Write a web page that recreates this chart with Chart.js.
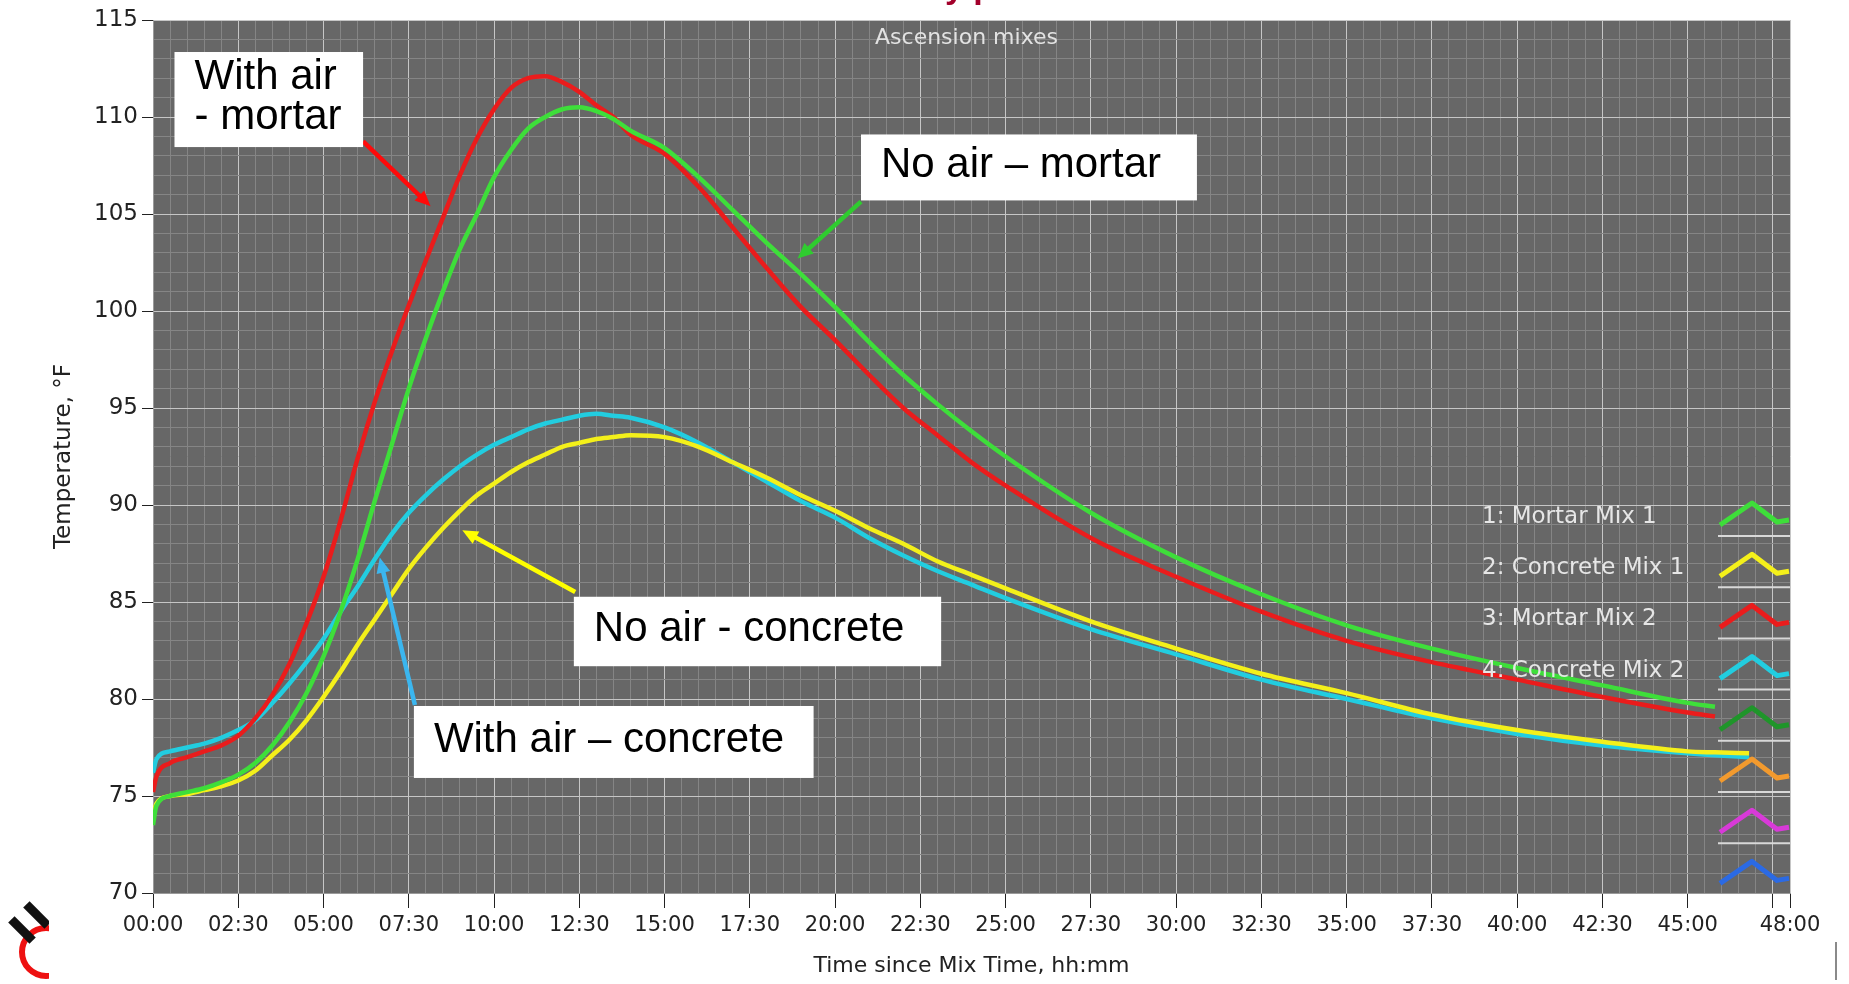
<!DOCTYPE html>
<html>
<head>
<meta charset="utf-8">
<title>Ascension mixes</title>
<script src="https://cdn.jsdelivr.net/npm/chart.js@4.4.1/dist/chart.umd.min.js"></script>
<style>
  body { margin: 0; background: #fff; overflow: hidden; }
</style>
</head>
<body>
<canvas id="tempChart" width="1849" height="984"></canvas>
<script>
// hours since mix time
const times = [0, 0.1, 0.5, 1, 1.5, 2, 2.5, 3, 3.5, 4,
  4.5, 5, 5.5, 6, 6.5, 7, 7.5, 8, 8.5, 9,
  9.5, 10, 10.5, 11, 11.5, 12, 12.5, 13, 13.5, 14,
  15, 16, 17, 18, 19, 20, 21, 22, 23, 24,
  25, 27.5, 30, 32.5, 35, 37.5, 40, 42.5, 45, 45.8,
  46.8];

// temperatures, °F
const mortarMix1 = [73.5, 74.5, 75.0, 75.2, 75.4, 75.7, 76.1, 76.7, 77.6, 78.8,
  80.3, 82.2, 84.5, 87.2, 90.2, 93.1, 96.0, 98.6, 101.0, 103.2,
  105.0, 106.9, 108.3, 109.4, 110.0, 110.4, 110.5, 110.3, 109.9, 109.3,
  108.4, 106.9, 105.2, 103.5, 101.9, 100.2, 98.4, 96.7, 95.2, 93.8,
  92.5, 89.6, 87.3, 85.4, 83.8, 82.6, 81.6, 80.7, 79.8, 79.6,
  null];
const concreteMix1 = [74.0, 74.6, 75.0, 75.1, 75.3, 75.5, 75.8, 76.3, 77.1, 77.9,
  78.9, 80.1, 81.4, 82.8, 84.1, 85.4, 86.7, 87.8, 88.8, 89.7,
  90.5, 91.1, 91.7, 92.2, 92.6, 93.0, 93.2, 93.4, 93.5, 93.6,
  93.5, 93.0, 92.2, 91.4, 90.5, 89.7, 88.8, 88.0, 87.1, 86.4,
  85.7, 84.0, 82.6, 81.3, 80.3, 79.2, 78.4, 77.8, 77.3, 77.25,
  77.2];
const mortarMix2 = [75.2, 76.0, 76.7, 77.0, 77.3, 77.6, 78.1, 79.0, 80.2, 81.8,
  83.9, 86.3, 89.2, 92.4, 95.3, 97.9, 100.3, 102.6, 104.8, 107.0,
  108.9, 110.4, 111.5, 112.0, 112.1, 111.8, 111.3, 110.6, 110.0, 109.1,
  108.1, 106.4, 104.3, 102.2, 100.2, 98.5, 96.7, 95.0, 93.6, 92.2,
  91.0, 88.3, 86.3, 84.5, 83.0, 81.9, 81.0, 80.1, 79.3, 79.1,
  null];
const concreteMix2 = [76.2, 76.9, 77.3, 77.5, 77.7, 78.0, 78.4, 78.9, 79.8, 80.8,
  81.9, 83.1, 84.5, 85.8, 87.2, 88.5, 89.6, 90.5, 91.3, 92.0,
  92.6, 93.1, 93.5, 93.9, 94.2, 94.4, 94.6, 94.7, 94.6, 94.5,
  94.0, 93.2, 92.2, 91.2, 90.2, 89.35, 88.3, 87.4, 86.6, 85.9,
  85.2, 83.6, 82.3, 81.0, 80.0, 79.0, 78.2, 77.6, 77.2, 77.1,
  77.0];

const seriesLabels = ["1: Mortar Mix 1", "2: Concrete Mix 1", "3: Mortar Mix 2", "4: Concrete Mix 2"];
const seriesColors = ["#3ede3a", "#f4f01a", "#ea1c1c", "#22cde0"];
// the four unused plot slots in the legend
const spareColors = ["#1f952a", "#f29a2e", "#d83ad8", "#2b6ae4"];

const xTickMax = 48;

function toPoints(values) {
  const pts = [];
  times.forEach((t, i) => {
    if (values[i] !== null) pts.push({ x: t, y: values[i] });
  });
  return pts;
}

function fmtTime(v) {
  const h = Math.floor(v);
  const m = Math.round((v - h) * 60);
  return String(h).padStart(2, "0") + ":" + String(m).padStart(2, "0");
}

const isMajorX = v => Math.abs(v % 2.5) < 1e-9 || v === xTickMax;
const isMajorY = v => v % 5 === 0;

// callout boxes, placed in data units (hours, °F)
const callouts = [
  { lines: ["With air", "- mortar"], box: [0.63, 113.35, 6.16, 108.45], from: [6.16, 108.74], to: [8.14, 105.4], color: "#ff0a0a" },
  { lines: ["No air \u2013 mortar"], box: [20.76, 109.1, 30.61, 105.7], from: [20.76, 105.64], to: [18.9, 102.7], color: "#2fcc2f" },
  { lines: ["No air - concrete"], box: [12.34, 85.27, 23.11, 81.69], from: [12.38, 85.52], to: [9.07, 88.7], color: "#ffff00" },
  { lines: ["With air \u2013 concrete"], box: [7.65, 79.64, 19.37, 75.93], from: [7.68, 79.69], to: [6.65, 87.3], color: "#3bb6ef" }
];

const plotBackground = {
  id: "plotBackground",
  beforeDraw(chart) {
    const { ctx, chartArea: a } = chart;
    ctx.save();
    ctx.fillStyle = "#ffffff";
    ctx.fillRect(0, 0, chart.width, chart.height);
    ctx.fillStyle = "#676767";
    ctx.fillRect(a.left, a.top, a.width, a.height);
    ctx.restore();
  }
};

function drawArrow(ctx, x1, y1, x2, y2, color) {
  const ang = Math.atan2(y2 - y1, x2 - x1);
  const head = 17;
  ctx.strokeStyle = color;
  ctx.fillStyle = color;
  ctx.lineWidth = 4.5;
  ctx.beginPath();
  ctx.moveTo(x1, y1);
  ctx.lineTo(x2 - head * 0.8 * Math.cos(ang), y2 - head * 0.8 * Math.sin(ang));
  ctx.stroke();
  ctx.beginPath();
  ctx.moveTo(x2, y2);
  ctx.lineTo(x2 - head * Math.cos(ang - 0.42), y2 - head * Math.sin(ang - 0.42));
  ctx.lineTo(x2 - head * Math.cos(ang + 0.42), y2 - head * Math.sin(ang + 0.42));
  ctx.closePath();
  ctx.fill();
}

const overlays = {
  id: "overlays",
  afterDatasetsDraw(chart) {
    const { ctx, chartArea: a } = chart;
    const xs = chart.scales.x, ys = chart.scales.y;
    ctx.save();

    // graph name
    ctx.fillStyle = "#e2e2e2";
    ctx.font = "22px 'DejaVu Sans'";
    ctx.textAlign = "center";
    ctx.textBaseline = "middle";
    ctx.fillText("Ascension mixes", (a.left + a.right) / 2 - 5, a.top + 18);

    // legend: names + line icons
    const rowH = 51.2;
    const row0 = a.top + 495;
    const iconX = a.right - 71;
    ctx.textAlign = "left";
    ctx.font = "23px 'DejaVu Sans'";
    seriesLabels.forEach((lbl, i) => {
      ctx.fillStyle = "#e6e6e6";
      ctx.fillText(lbl, a.right - 308, row0 + i * rowH + 2);
    });
    seriesColors.concat(spareColors).forEach((col, i) => {
      const yc = row0 + i * rowH;
      ctx.strokeStyle = col;
      ctx.lineWidth = 5;
      ctx.lineJoin = "round";
      ctx.beginPath();
      ctx.moveTo(iconX + 1, yc + 10);
      ctx.lineTo(iconX + 33, yc - 12);
      ctx.lineTo(iconX + 58, yc + 7);
      ctx.lineTo(iconX + 70, yc + 5);
      ctx.stroke();
      if (i < 7) {
        ctx.strokeStyle = "#d8d8d8";
        ctx.lineWidth = 2;
        ctx.beginPath();
        ctx.moveTo(iconX - 1, yc + 21);
        ctx.lineTo(a.right, yc + 21);
        ctx.stroke();
      }
    });

    // callouts
    ctx.font = "42px 'Liberation Sans', Arial, sans-serif";
    callouts.forEach(c => {
      const x0 = xs.getPixelForValue(c.box[0]), y0 = ys.getPixelForValue(c.box[1]);
      const x1 = xs.getPixelForValue(c.box[2]), y1 = ys.getPixelForValue(c.box[3]);
      drawArrow(ctx, xs.getPixelForValue(c.from[0]), ys.getPixelForValue(c.from[1]),
        xs.getPixelForValue(c.to[0]), ys.getPixelForValue(c.to[1]), c.color);
      ctx.fillStyle = "#ffffff";
      ctx.fillRect(x0, y0, x1 - x0, y1 - y0);
      ctx.fillStyle = "#000000";
      const mid = (y0 + y1) / 2;
      const lh = 40;
      c.lines.forEach((ln, i) => {
        ctx.fillText(ln, x0 + 20, mid + (i - (c.lines.length - 1) / 2) * lh - 2);
      });
    });
    ctx.restore();
  },
  afterDraw(chart) {
    const ctx = chart.ctx;
    ctx.save();
    // cut-off page heading
    ctx.fillStyle = "#a3002b";
    ctx.font = "bold 34px 'Liberation Sans', Arial, sans-serif";
    ctx.textAlign = "left";
    ctx.textBaseline = "alphabetic";
    ctx.fillText("y p", 945, -2);

    // logo in the corner
    ctx.beginPath();
    ctx.rect(0, 880, 49, 104);
    ctx.clip();
    ctx.strokeStyle = "#ee1111";
    ctx.lineWidth = 6;
    ctx.beginPath();
    ctx.arc(46, 952, 24, 0, Math.PI * 2);
    ctx.stroke();
    ctx.fillStyle = "#111111";
    [[37, 915], [22, 930]].forEach(([cx, cy]) => {
      ctx.save();
      ctx.translate(cx, cy);
      ctx.rotate(Math.PI / 4);
      ctx.fillRect(-15, -4.5, 30, 9);
      ctx.restore();
    });
    ctx.restore();

    ctx.save();
    ctx.strokeStyle = "#8a8a8a";
    ctx.lineWidth = 2;
    ctx.beginPath();
    ctx.moveTo(1836, 942);
    ctx.lineTo(1836, 980);
    ctx.stroke();
    ctx.restore();
  }
};

new Chart(document.getElementById("tempChart"), {
  type: "line",
  data: {
    datasets: [
      { label: seriesLabels[0], data: toPoints(mortarMix1), borderColor: seriesColors[0] },
      { label: seriesLabels[1], data: toPoints(concreteMix1), borderColor: seriesColors[1] },
      { label: seriesLabels[2], data: toPoints(mortarMix2), borderColor: seriesColors[2] },
      { label: seriesLabels[3], data: toPoints(concreteMix2), borderColor: seriesColors[3] }
    ]
  },
  options: {
    responsive: false,
    animation: false,
    events: [],
    elements: {
      point: { radius: 0 },
      line: { borderWidth: 4.5, cubicInterpolationMode: "monotone", fill: false }
    },
    layout: { padding: { left: 0, top: 20, right: 59, bottom: 0 } },
    plugins: {
      legend: { display: false },
      tooltip: { enabled: false }
    },
    scales: {
      x: {
        type: "linear",
        min: 0,
        max: xTickMax,
        afterFit: scale => { scale.height = 91; },
        border: { color: "#9a9a9a" },
        grid: {
          color: c => isMajorX(c.tick.value) ? "#c6c6c6" : "#858585",
          tickColor: c => isMajorX(c.tick.value) ? "#222" : "rgba(0,0,0,0)",
          tickLength: 15
        },
        ticks: {
          stepSize: 0.5,
          autoSkip: false,
          maxRotation: 0,
          padding: 5,
          color: "#222",
          font: { family: "DejaVu Sans", size: 21 },
          callback: v => (v % 2.5 === 0 && v !== 47.5) || v === xTickMax ? fmtTime(v) : ""
        },
        title: {
          display: true,
          text: "Time since Mix Time, hh:mm",
          color: "#222",
          font: { family: "DejaVu Sans", size: 22 },
          padding: { top: 0, bottom: 5 }
        }
      },
      y: {
        min: 70,
        max: 115,
        afterFit: scale => { scale.width = 153; },
        border: { color: "#9a9a9a" },
        grid: {
          color: c => isMajorY(c.tick.value) ? "#c6c6c6" : "#858585",
          tickColor: c => isMajorY(c.tick.value) ? "#222" : "rgba(0,0,0,0)",
          tickLength: 11
        },
        ticks: {
          stepSize: 1,
          autoSkip: false,
          padding: 4,
          color: "#222",
          font: { family: "DejaVu Sans", size: 23 },
          callback: v => isMajorY(v) ? String(v) : ""
        },
        title: {
          display: true,
          text: "Temperature, \u00b0F",
          color: "#222",
          font: { family: "DejaVu Sans", size: 23 },
          padding: { top: 50, bottom: 0 }
        }
      }
    }
  },
  plugins: [plotBackground, overlays]
});
</script>
</body>
</html>
